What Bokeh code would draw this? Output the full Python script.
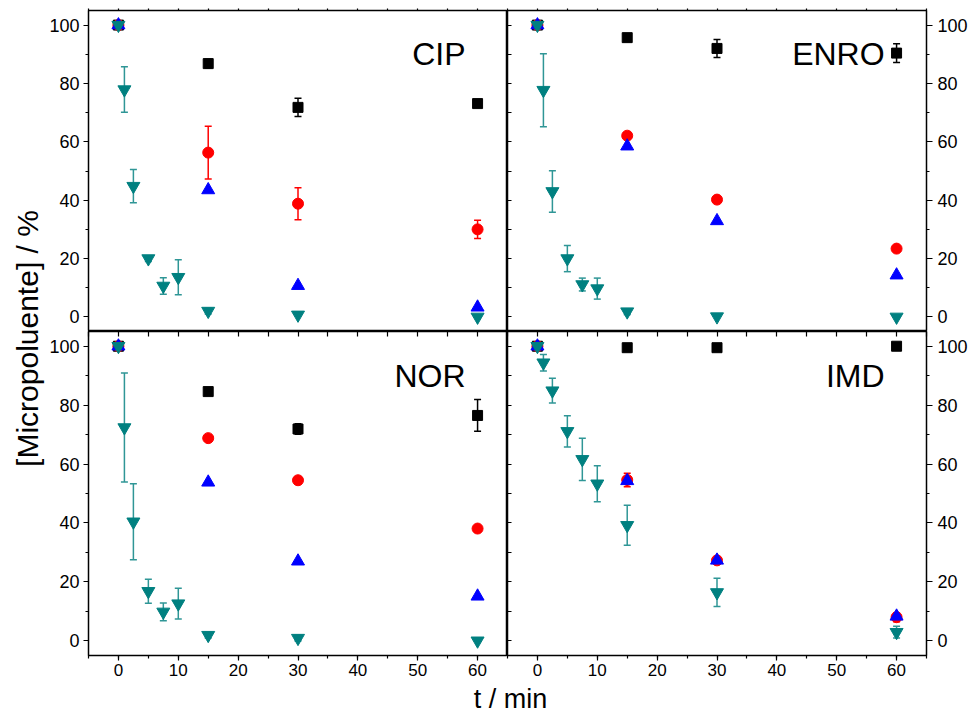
from math import pi
from bokeh.plotting import figure
from bokeh.models import (Range1d, LinearAxis, SingleIntervalTicker, FixedTicker, Whisker, TeeHead,
                          ColumnDataSource, Label)
from bokeh.layouts import row, column
from bokeh.embed import file_html
from bokeh.resources import INLINE

# ---------------- data ----------------
t_main = [0, 15, 30, 60]
t_fast = [0, 1, 2.5, 5, 7.5, 10, 15, 30, 60]

panel_names = ["CIP", "ENRO", "NOR", "IMD"]

# black squares
cip_sq = [100, 86.8, 71.8, 73.1]
cip_sq_err = [0, 1.5, 3.1, 0]
enro_sq = [100, 95.7, 92.0, 90.4]
enro_sq_err = [0, 0, 3.1, 3.2]
nor_sq = [100, 84.6, 71.9, 76.5]
nor_sq_err = [0, 0, 1.8, 5.4]
imd_sq = [100, 99.5, 99.5, 100.0]
imd_sq_err = [0, 0, 0, 0]

# red circles
cip_ci = [100, 56.3, 38.8, 30.0]
cip_ci_err = [0, 9.0, 5.5, 3.1]
enro_ci = [100, 62.1, 40.2, 23.4]
enro_ci_err = [0, 0, 1.0, 0]
nor_ci = [100, 68.8, 54.5, 38.1]
nor_ci_err = [0, 0, 0, 0]
imd_ci = [100, 54.6, 27.3, 8.0]
imd_ci_err = [0, 2.3, 1.0, 1.5]

# blue triangles
cip_tr = [100, 43.5, 10.7, 3.3]
enro_tr = [100, 58.5, 32.9, 14.3]
nor_tr = [100, 53.8, 27.0, 15.1]
imd_tr = [100, 54.3, 27.3, 8.3]

# teal inverted triangles
cip_it = [100, 77.9, 44.8, 20.0, 10.6, 13.6, 2.0, 0.7, 0.0]
cip_it_err = [0, 7.8, 5.7, 1.0, 2.8, 6.0, 1.0, 0, 0]
enro_it = [100, 77.7, 43.0, 20.0, 11.1, 9.7, 1.8, 0.1, 0.0]
enro_it_err = [0, 12.5, 7.1, 4.5, 2.2, 3.6, 1.0, 0, 0]
nor_it = [100, 72.4, 40.4, 16.8, 9.8, 12.6, 1.9, 0.9, 0.0]
nor_it_err = [0, 18.5, 12.9, 4.1, 3.0, 5.2, 1.0, 1.0, 0]
imd_it = [100, 94.4, 84.9, 71.1, 61.6, 53.3, 39.2, 16.4, 2.9]
imd_it_err = [0, 2.8, 4.2, 5.3, 7.2, 6.1, 6.8, 4.8, 2.0]

FONT = "Liberation Sans"
C_SQ, C_CI, C_TR, C_IT, C_IT_ERR = "#000000", "#ff0000", "#0000ff", "#008080", "#2f9696"

X_MINOR_ONLY = list(range(-5, 70, 5))
Y_MINOR_ONLY = list(range(0, 110, 10))


def label_axis(ticker, size, standoff, tick_out=5):
    ax = LinearAxis(ticker=ticker)
    ax.axis_line_color = None
    ax.major_tick_line_color = "black"
    ax.minor_tick_line_color = "black"
    ax.major_tick_line_width = 1.2
    ax.minor_tick_line_width = 1.2
    ax.major_tick_in, ax.major_tick_out = 0, tick_out
    ax.minor_tick_in, ax.minor_tick_out = 0, 3
    ax.major_label_text_font = FONT
    ax.major_label_text_font_size = size
    ax.major_label_text_color = "black"
    ax.major_label_standoff = standoff
    return ax


def tick_only_axis(positions, tick_in, tick_out):
    # only minor ticks -> no tick labels are produced
    ax = LinearAxis(ticker=FixedTicker(ticks=[], minor_ticks=positions))
    ax.axis_line_color = None
    ax.minor_tick_line_color = "black"
    ax.minor_tick_line_width = 1.2
    ax.minor_tick_in, ax.minor_tick_out = tick_in, tick_out
    ax.major_tick_in, ax.major_tick_out = 0, 0
    ax.major_label_standoff = 0
    return ax


def add_errors(p, t, y, e, color):
    tt = [a for a, b in zip(t, e) if b > 0]
    up = [v + b for v, b in zip(y, e) if b > 0]
    lo = [v - b for v, b in zip(y, e) if b > 0]
    if not tt:
        return
    src = ColumnDataSource(dict(t=tt, upper=up, lower=lo))
    w = Whisker(source=src, base="t", upper="upper", lower="lower", dimension="height",
                line_color=color, line_width=1.5,
                upper_head=TeeHead(size=7, line_color=color, line_width=1.5),
                lower_head=TeeHead(size=7, line_color=color, line_width=1.5))
    p.add_layout(w)


def make_panel(col, rw, name, sq, sq_err, ci, ci_err, tr, it, it_err):
    left = col == 0
    top = rw == 0
    p = figure(frame_width=419, frame_height=321 if top else 324,
               x_range=Range1d(-5, 65), y_range=Range1d(-5, 105),
               output_backend="svg", toolbar_location=None,
               x_axis_location=None, y_axis_location=None,
               min_border_left=42 if left else 0, min_border_right=0 if left else 46,
               min_border_top=10 if top else 0, min_border_bottom=0 if top else 28,
               background_fill_color="white", border_fill_color="white")
    p.grid.grid_line_color = None
    p.outline_line_color = "black"
    p.outline_line_width = 1.5

    if left:
        p.add_layout(label_axis(SingleIntervalTicker(interval=20, num_minor_ticks=2), "18px", 4), "left")
    else:
        p.add_layout(label_axis(SingleIntervalTicker(interval=20, num_minor_ticks=2), "18px", 5, 6), "right")
        p.add_layout(tick_only_axis(Y_MINOR_ONLY, 4, 0), "left")
    if top:
        p.add_layout(tick_only_axis(X_MINOR_ONLY, 0, 2), "above")
    else:
        p.add_layout(label_axis(SingleIntervalTicker(interval=10, num_minor_ticks=2), "17px", 3), "below")
        p.add_layout(tick_only_axis(X_MINOR_ONLY, 5, 0), "above")

    add_errors(p, t_main, sq, sq_err, C_SQ)
    add_errors(p, t_main, ci, ci_err, C_CI)
    add_errors(p, t_fast, it, it_err, C_IT_ERR)

    p.scatter(t_main, sq, marker="square", size=10, color=C_SQ)
    p.scatter(t_main, ci, marker="circle", size=11, color=C_CI)
    p.scatter(t_main, tr, marker="triangle", size=13, color=C_TR)
    p.scatter(t_fast, it, marker="inverted_triangle", size=13, color=C_IT)

    p.add_layout(Label(x=58, y=90, text=name, text_align="right", text_baseline="alphabetic",
                       text_font=FONT, text_font_size="32px", text_color="black"))
    return p


tl = make_panel(0, 0, panel_names[0], cip_sq, cip_sq_err, cip_ci, cip_ci_err, cip_tr, cip_it, cip_it_err)
tr_ = make_panel(1, 0, panel_names[1], enro_sq, enro_sq_err, enro_ci, enro_ci_err, enro_tr, enro_it, enro_it_err)
bl = make_panel(0, 1, panel_names[2], nor_sq, nor_sq_err, nor_ci, nor_ci_err, nor_tr, nor_it, nor_it_err)
br = make_panel(1, 1, panel_names[3], imd_sq, imd_sq_err, imd_ci, imd_ci_err, imd_tr, imd_it, imd_it_err)

TOP_H = 331
BOT_H = 324 + 28
MAIN_H = TOP_H + BOT_H
STRIP_H = 714 - MAIN_H

# y-axis title strip (data range = pixels, y measured from the strip bottom)
ys = figure(width=46, height=MAIN_H, x_range=Range1d(0, 46), y_range=Range1d(0, MAIN_H),
            min_border=0, x_axis_location=None, y_axis_location=None,
            toolbar_location=None, output_backend="svg")
ys.grid.grid_line_color = None
ys.outline_line_color = None
ys.add_layout(Label(x=27, y=MAIN_H - 338,
                    text="[Micropoluente] / %", angle=pi / 2, text_align="center",
                    text_baseline="middle", text_font=FONT, text_font_size="30px",
                    text_color="black"))

# x-axis title strip
xs = figure(width=972, height=STRIP_H, x_range=Range1d(0, 972), y_range=Range1d(0, STRIP_H),
            min_border=0, x_axis_location=None, y_axis_location=None,
            toolbar_location=None, output_backend="svg")
xs.grid.grid_line_color = None
xs.outline_line_color = None
xs.add_layout(Label(x=510, y=STRIP_H / 2, text="t / min", text_align="center",
                    text_baseline="middle", text_font=FONT, text_font_size="27px",
                    text_color="black"))

layout = column(row(ys, column(row(tl, tr_), row(bl, br))), xs)

open("out.html", "w").write(file_html(layout, INLINE))
